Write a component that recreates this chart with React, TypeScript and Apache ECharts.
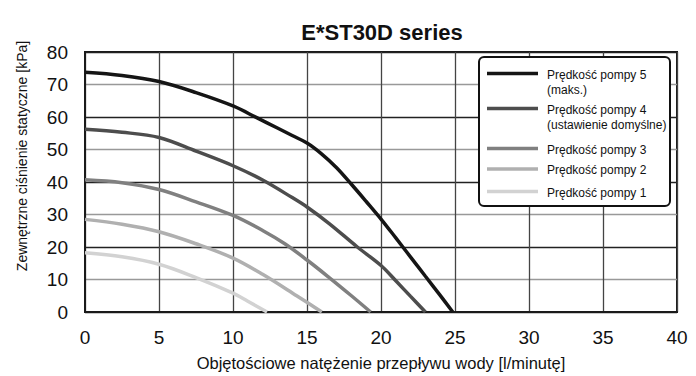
import React, { useEffect, useRef } from "react";
import * as echarts from "echarts";

const seriesNames = [
  "Prędkość pompy 1",
  "Prędkość pompy 2",
  "Prędkość pompy 3",
  "Prędkość pompy 4",
  "Prędkość pompy 5",
];

const pump1X = [0, 2.5, 5, 7.5, 10, 11, 12.3];
const pump1Y = [18.2, 17, 14.7, 10.6, 5.8, 3.3, 0];

const pump2X = [0, 2.5, 5, 7.5, 10, 12, 14.3, 16];
const pump2Y = [28.5, 27, 24.7, 21, 16.6, 11.6, 5, 0];

const pump3X = [0, 2.5, 5, 7.5, 10, 12, 13.5, 15, 16.5, 18, 19.3];
const pump3Y = [40.7, 39.8, 37.7, 33.9, 29.7, 25.1, 21, 16, 10.6, 5, 0];

const pump4X = [0, 2.5, 5, 7.5, 10, 12, 14, 15, 16.5, 18.4, 20, 21, 22, 23];
const pump4Y = [56.2, 55.3, 53.7, 49.5, 45, 40.6, 35.2, 32.3, 27.2, 20, 14.3, 9.6, 4.8, 0];

const pump5X = [0, 2.5, 5, 7.5, 10, 11.6, 13, 14, 15, 16, 17, 18, 19, 20, 21, 22, 23, 24, 24.85];
const pump5Y = [73.8, 72.8, 70.9, 67.5, 63.4, 59.8, 56.6, 54.3, 52, 48.6, 44.4, 39.3, 34, 28.6, 22.8, 16.9, 11, 5.1, 0];

const xTicks = [0, 5, 10, 15, 20, 25, 30, 35, 40];
const yTicks = [0, 10, 20, 30, 40, 50, 60, 70, 80];

const legendLines = [
  ["Prędkość pompy 5", "(maks.)"],
  ["Prędkość pompy 4", "(ustawienie domyślne)"],
  ["Prędkość pompy 3"],
  ["Prędkość pompy 2"],
  ["Prędkość pompy 1"],
];

const colors = ["#d2d2d2", "#b0b0b0", "#808080", "#4d4d4d", "#151515"];

const FONT = "'Liberation Sans', Arial, Helvetica, sans-serif";

export default function App() {
  const ref = useRef<HTMLDivElement>(null);
  useEffect(() => {
    if (!ref.current) return;
    const chart = echarts.init(ref.current, undefined, { renderer: "svg" });
    const xs = [pump1X, pump2X, pump3X, pump4X, pump5X];
    const ys = [pump1Y, pump2Y, pump3Y, pump4Y, pump5Y];

    const legendColors = [colors[4], colors[3], colors[2], colors[1], colors[0]];
    const swatchY = [73.5, 108.5, 148.5, 169, 191.5];
    const legendGraphics: any[] = [
      {
        type: "rect",
        shape: { x: 479, y: 57, width: 191, height: 149, r: 5 },
        style: { fill: "#fff", stroke: "#111", lineWidth: 2 },
        z: 100,
      },
    ];
    legendLines.forEach((lines, i) => {
      legendGraphics.push({
        type: "line",
        shape: { x1: 487, y1: swatchY[i], x2: 538, y2: swatchY[i] },
        style: { stroke: legendColors[i], lineWidth: 3.5 },
        z: 101,
      });
      lines.forEach((t, j) => {
        legendGraphics.push({
          type: "text",
          x: 547,
          y: swatchY[i] + 1 + j * 15.5,
          style: {
            text: t,
            fill: "#111",
            font: `12px ${FONT}`,
            verticalAlign: "middle",
            align: "left",
          },
          z: 101,
        });
      });
    });

    chart.setOption({
      animation: false,
      backgroundColor: "#fff",
      title: {
        text: "E*ST30D series",
        left: 377,
        top: 16,
        textAlign: "center",
        textStyle: {
          fontFamily: FONT,
          fontWeight: "bold",
          fontSize: 22,
          color: "#111",
        },
      },
      grid: {
        left: 85,
        top: 52,
        right: 19,
        bottom: 58,
        show: true,
        borderColor: "#1a1a1a",
        borderWidth: 2,
        containLabel: false,
      },
      xAxis: {
        type: "value",
        min: 0,
        max: 40,
        interval: 5,
        name: "Objętościowe natężenie przepływu wody [l/minutę]",
        nameLocation: "middle",
        nameGap: 42,
        nameTextStyle: { fontFamily: FONT, fontSize: 16.5, color: "#111" },
        axisLine: { show: true, lineStyle: { color: "#1a1a1a", width: 2 } },
        axisTick: { show: false },
        axisLabel: {
          margin: 16,
          fontFamily: FONT,
          fontSize: 19,
          color: "#111",
          formatter: (v: number) => (xTicks.includes(v) ? String(v) : ""),
        },
        splitLine: { show: true, lineStyle: { color: "#444", width: 1.3 } },
      },
      yAxis: {
        type: "value",
        min: 0,
        max: 80,
        interval: 10,
        name: "Zewnętrzne ciśnienie statyczne [kPa]",
        nameLocation: "middle",
        nameGap: 56,
        nameRotate: 90,
        nameTextStyle: {
          fontFamily: FONT,
          fontSize: 14,
          color: "#111",
          padding: [0, 0, 0, 52],
        },
        axisLine: { show: true, lineStyle: { color: "#1a1a1a", width: 2 } },
        axisTick: { show: false },
        axisLabel: {
          margin: 17,
          fontFamily: FONT,
          fontSize: 19,
          color: "#111",
          padding: [4, 0, 0, 0],
          formatter: (v: number) => (yTicks.includes(v) ? String(v) : ""),
        },
        splitLine: { show: true, lineStyle: { color: ["#222", "#999"], width: 1.3 } },
      },
      series: seriesNames.map((name, i) => ({
        name,
        type: "line",
        smooth: 0.35,
        showSymbol: false,
        lineStyle: { color: colors[i], width: 3.5 },
        data: xs[i].map((x, k) => [x, ys[i][k]]),
        z: 10 + i,
      })),
      graphic: legendGraphics,
    });
    return () => chart.dispose();
  }, []);
  return (
    <div
      ref={ref}
      style={{ position: "fixed", left: 0, top: 0, width: 696, height: 376 }}
    />
  );
}
